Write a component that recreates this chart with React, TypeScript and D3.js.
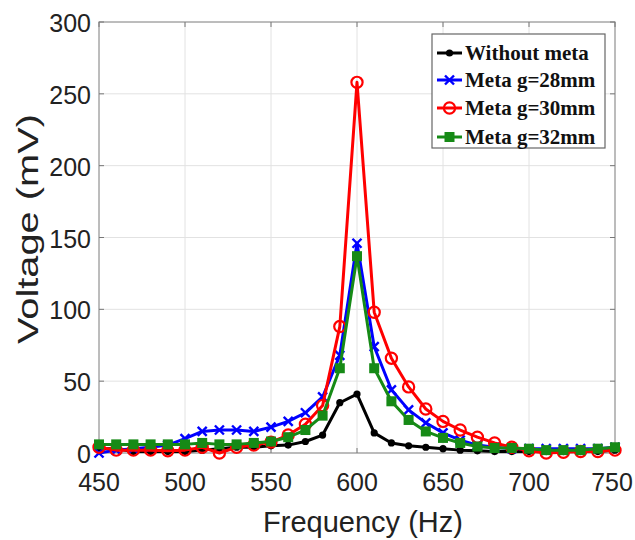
import React from 'react';
import * as d3 from 'd3';

const freq = d3.range(450, 751, 10);

// values, 450..750 Hz step 10
const withoutMeta = [3, 3, 1, 1, 1, 1, 2, 3, 4, 4, 5, 5.5, 8, 12.5, 35, 41, 14, 7, 5, 4, 3, 2, 1.5, 1, 1, 1, 1, 1, 1, 1, 2];
const metaG28 = [0, 2, 3, 4, 5.5, 10, 15, 16, 16, 15, 18, 22, 28, 39, 68, 146, 74, 44, 30, 21, 14, 9, 5.5, 4, 3, 3, 3, 3, 3, 3, 4];
const metaG30 = [4, 2, 2, 2, 1.5, 2, 4, 0, 4, 5.6, 7.6, 12.5, 20, 33, 88, 258, 98, 66, 46, 30.6, 22, 16, 11, 7, 4, 1.6, 0, 0.5, 1, 1, 2];
const metaG32 = [6, 6, 6, 6, 6, 6, 7, 6, 6, 7, 8, 11, 16, 26, 59, 137, 59, 36, 23, 15, 10.5, 7, 4.5, 3.5, 3.5, 3, 2, 2, 2, 3, 4];

const xTicks = [450, 500, 550, 600, 650, 700, 750];
const yTicks = [0, 50, 100, 150, 200, 250, 300];

type Series = { name: string; values: number[]; color: string; marker: 'dot' | 'x' | 'circle' | 'square' };

const series: Series[] = [
  { name: 'Without meta', values: withoutMeta, color: '#000000', marker: 'dot' },
  { name: 'Meta g=28mm', values: metaG28, color: '#0000ff', marker: 'x' },
  { name: 'Meta g=30mm', values: metaG30, color: '#ff0000', marker: 'circle' },
  { name: 'Meta g=32mm', values: metaG32, color: '#168a16', marker: 'square' }
];

const left = 99;
const right = 615;
const top = 22;
const bottom = 453;
const sans = "'Liberation Sans', Arial, sans-serif";

function Marker({ kind, x, y, color }: { kind: Series['marker']; x: number; y: number; color: string }) {
  if (kind === 'dot') return <circle cx={x} cy={y} r={3.6} fill={color} />;
  if (kind === 'circle') return <circle cx={x} cy={y} r={5.6} fill="none" stroke={color} strokeWidth={2.2} />;
  if (kind === 'square') return <rect x={x - 5} y={y - 5} width={10} height={10} fill={color} />;
  const s = 4.5;
  return (
    <g stroke={color} strokeWidth={2.4}>
      <line x1={x - s} y1={y - s} x2={x + s} y2={y + s} />
      <line x1={x - s} y1={y + s} x2={x + s} y2={y - s} />
    </g>
  );
}

export default function App() {
  const x = d3.scaleLinear().domain([450, 750]).range([left, right]);
  const y = d3.scaleLinear().domain([0, 300]).range([bottom, top]);
  const line = d3
    .line<number>()
    .x((_, i) => x(freq[i]))
    .y((v) => y(v));

  const legendY = [53, 80, 108, 137];

  return (
    <svg width={635} height={540} style={{ position: 'absolute', left: 0, top: 0, background: '#fff' }}>
      <rect width={635} height={540} fill="#fff" />
      {/* grid */}
      <g stroke="#e2e2e2" strokeWidth={1}>
        {xTicks.map((t) => (
          <line key={`gx${t}`} x1={x(t)} x2={x(t)} y1={top} y2={bottom} />
        ))}
        {yTicks.map((t) => (
          <line key={`gy${t}`} x1={left} x2={right} y1={y(t)} y2={y(t)} />
        ))}
      </g>
      {/* box */}
      <rect x={left} y={top} width={right - left} height={bottom - top} fill="none" stroke="#9a9a9a" strokeWidth={1.2} />
      <g stroke="#777" strokeWidth={1}>
        {xTicks.map((t) => (
          <g key={`tx${t}`}>
            <line x1={x(t)} x2={x(t)} y1={bottom} y2={bottom - 5} />
            <line x1={x(t)} x2={x(t)} y1={top} y2={top + 5} />
          </g>
        ))}
        {yTicks.map((t) => (
          <g key={`ty${t}`}>
            <line x1={left} x2={left + 5} y1={y(t)} y2={y(t)} />
            <line x1={right} x2={right - 5} y1={y(t)} y2={y(t)} />
          </g>
        ))}
      </g>
      {/* tick labels */}
      <g fontFamily={sans} fontSize={25} fill="#222">
        {xTicks.map((t) => (
          <text key={`lx${t}`} x={Math.min(x(t), 612)} y={491} textAnchor="middle">
            {t}
          </text>
        ))}
        {yTicks.map((t) => (
          <text key={`ly${t}`} x={left - 8} y={y(t) + 10} textAnchor="end">
            {t}
          </text>
        ))}
      </g>
      <text x={363} y={532} textAnchor="middle" fontFamily={sans} fontSize={29} fill="#222">
        Frequency (Hz)
      </text>
      <text
        transform={`translate(38, 229) rotate(-90)`}
        textAnchor="middle"
        fontFamily={sans}
        fontSize={29}
        fill="#222"
        textLength={230}
        lengthAdjust="spacingAndGlyphs"
      >
        Voltage (mV)
      </text>
      {/* series */}
      {series.map((s) => (
        <g key={s.name}>
          <path d={line(s.values) || ''} fill="none" stroke={s.color} strokeWidth={3} strokeLinejoin="round" />
          {s.values.map((v, i) => (
            <Marker key={i} kind={s.marker} x={x(freq[i])} y={y(v)} color={s.color} />
          ))}
        </g>
      ))}
      {/* legend */}
      <rect x={432} y={34} width={173} height={114} fill="#fff" stroke="#666" strokeWidth={1.2} />
      {series.map((s, i) => (
        <g key={`lg${s.name}`}>
          <line x1={437} x2={462} y1={legendY[i]} y2={legendY[i]} stroke={s.color} strokeWidth={3} />
          <Marker kind={s.marker} x={449.5} y={legendY[i]} color={s.color} />
          <text
            x={465}
            y={legendY[i] + 7}
            fontFamily="'Liberation Serif', 'Times New Roman', serif"
            fontWeight="bold"
            fontSize={21}
            fill="#111"
          >
            {s.name}
          </text>
        </g>
      ))}
    </svg>
  );
}
